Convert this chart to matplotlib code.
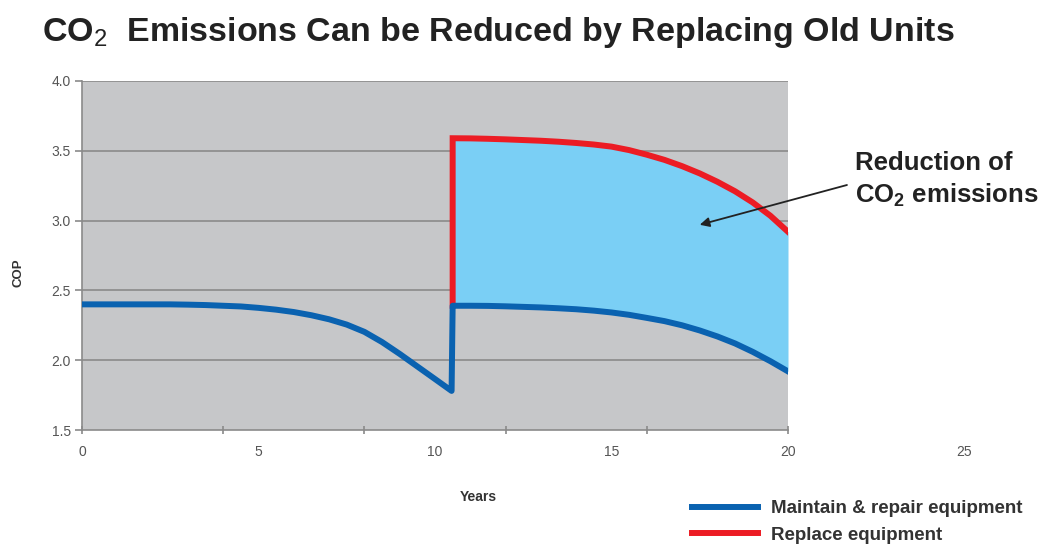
import matplotlib
matplotlib.use("Agg")
import matplotlib.pyplot as plt
import numpy as np

plt.rcParams['font.family'] = ['Liberation Sans', 'DejaVu Sans']
plt.rcParams['mathtext.fontset'] = 'custom'
plt.rcParams['mathtext.rm'] = 'Liberation Sans'
plt.rcParams['mathtext.bf'] = 'Liberation Sans:bold'

# ---- data ----
years_before = [0, 0.5, 1, 1.5, 2, 2.5, 3, 3.5, 4, 4.5, 5, 5.5, 6, 6.5, 7, 7.5,
                8, 8.5, 9, 9.5, 10, 10.47]
cop_before = [2.40, 2.40, 2.40, 2.40, 2.40, 2.40, 2.398, 2.395, 2.39, 2.385, 2.375,
              2.362, 2.345, 2.322, 2.293, 2.255, 2.203, 2.13, 2.045, 1.955, 1.865, 1.78]

years_after = [10.5, 11, 11.5, 12, 12.5, 13, 13.5, 14, 14.5, 15, 15.5, 16, 16.5,
               17, 17.5, 18, 18.5, 19, 19.5, 20]
cop_repair_after = [2.39, 2.39, 2.389, 2.386, 2.382, 2.378, 2.372, 2.365, 2.355, 2.342,
                    2.325, 2.303, 2.28, 2.25, 2.213, 2.17, 2.12, 2.06, 1.993, 1.92]
cop_replace_after = [3.59, 3.589, 3.586, 3.582, 3.577, 3.572, 3.565, 3.556, 3.545, 3.53,
                     3.505, 3.472, 3.435, 3.39, 3.338, 3.278, 3.21, 3.13, 3.035, 2.92]

x_tick_labels = [0, 5, 10, 15, 20, 25]
x_tick_marks = [0, 4, 8, 12, 16, 20]
y_ticks = [1.5, 2.0, 2.5, 3.0, 3.5, 4.0]

series_names = ["Maintain & repair equipment", "Replace equipment"]

# ---- colours ----
BLUE = "#0a62b0"
RED = "#ec1c24"
FILL = "#7acff5"
BG = "#c6c7c9"
GRID = "#8a8a8a"
TXT = "#555555"

W, H = 1040, 544
fig = plt.figure(figsize=(W / 100, H / 100), dpi=100)
ax = fig.add_axes([82 / W, 1 - 430 / H, (788 - 82) / W, (430 - 81) / H])
ax.set_facecolor(BG)
ax.set_xlim(0, 20)
ax.set_ylim(1.5, 4.0)

for yv in y_ticks[1:]:
    ax.axhline(yv, color=GRID, lw=1.2, zorder=1)

ax.fill_between(years_after, cop_repair_after, cop_replace_after, color=FILL, lw=0, zorder=2)

red_x = [years_after[0]] + years_after
red_y = [cop_repair_after[0]] + cop_replace_after
ax.plot(red_x, red_y, color=RED, lw=4.3, solid_joinstyle='miter', zorder=3,
        label=series_names[1])
blue_x = years_before + years_after
blue_y = cop_before + cop_repair_after
ax.plot(blue_x, blue_y, color=BLUE, lw=4.3, solid_joinstyle='round', zorder=4,
        label=series_names[0])

# axes styling
for s in ['top', 'right']:
    ax.spines[s].set_visible(False)
for s in ['left', 'bottom']:
    ax.spines[s].set_color(GRID)
    ax.spines[s].set_linewidth(1.2)

ax.set_xticks(x_tick_marks)
ax.set_xticklabels([])
ax.tick_params(axis='x', direction='inout', length=6, color=GRID, width=1.2)
ax.set_yticks(y_ticks)
ax.set_yticklabels([f"{v:.1f}" for v in y_ticks], fontsize=10, color=TXT)
ax.tick_params(axis='y', direction='out', length=5, color=GRID, width=1.2, pad=3)

for v in x_tick_labels:
    ax.text(v, -0.063, str(v), transform=ax.get_xaxis_transform(), ha='center',
            va='center', fontsize=10, color=TXT, clip_on=False)

fig.text(478 / W, 1 - 497 / H, "Years", ha='center', va='center', fontsize=10,
         fontweight='bold', color='#333333')
fig.text(18 / W, 1 - 273 / H, "COP", ha='center', va='center', fontsize=9.5,
         fontweight='bold', rotation=90, color='#333333')

# title
fig.text(42 / W, 1 - 32 / H,
         r"CO$_{\mathrm{2}}$  Emissions Can be Reduced by Replacing Old Units",
         ha='left', va='center', fontsize=24.5, fontweight='bold', color='#222222')

# annotation
ax.annotate("", xy=(17.5, 2.97), xytext=(21.67, 3.255), annotation_clip=False,
            arrowprops=dict(arrowstyle='-|>', color='#222222', lw=1.3,
                            mutation_scale=14, shrinkA=0, shrinkB=0))
ax.text(21.9, 3.50, "Reduction of\n" + r"CO$_\mathbf{2}$ emissions", ha='left', va='top',
        fontsize=18.5, fontweight='bold', color='#222222', linespacing=1.3, clip_on=False)

# legend
handles, labels = ax.get_legend_handles_labels()
order = [1, 0]
leg = fig.legend([handles[i] for i in order], [labels[i] for i in order],
                 loc='upper left', bbox_to_anchor=(692 / W, 1 - 500 / H),
                 frameon=False, fontsize=13.5, handlelength=3.5, handletextpad=0.7,
                 labelspacing=0.5, borderpad=0, borderaxespad=0)
for t in leg.get_texts():
    t.set_color('#333333')
    t.set_fontweight('bold')

fig.savefig("out.png", dpi=100)
